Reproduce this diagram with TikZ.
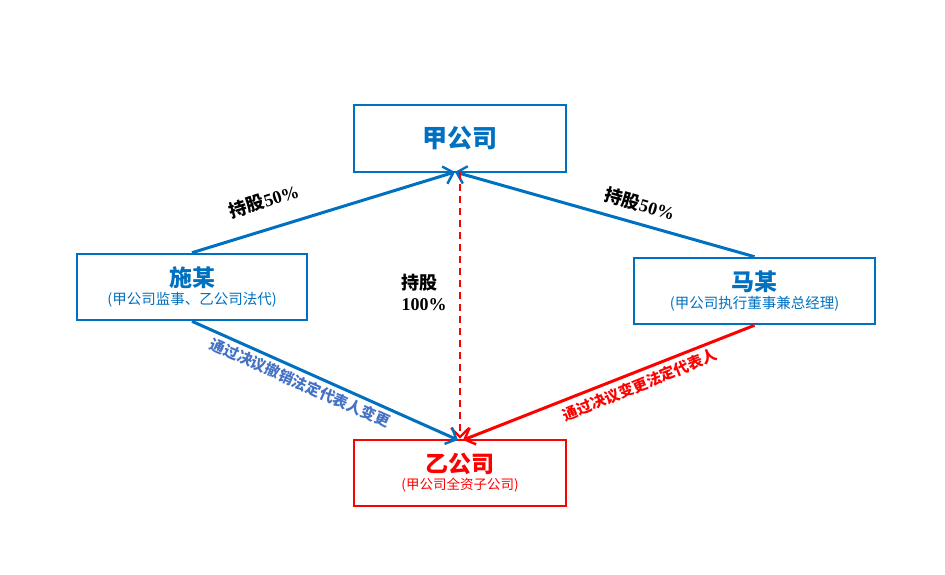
\documentclass[tikz,border=0pt]{standalone}
\usepackage{fontspec}
\newfontfamily\cjk{Noto Sans CJK SC}
\newcommand\cjkb{\cjk\bfseries}
\newfontfamily\tms{Liberation Serif}
\usetikzlibrary{arrows.meta}
\definecolor{bl}{HTML}{0070C0}
\definecolor{lb}{HTML}{4472C4}
\begin{document}
\begin{tikzpicture}[x=1pt,y=-1pt,
 box/.style={draw=bl,line width=2.6pt,minimum width=#1,inner sep=0pt,align=center},
 arr/.style={line width=3pt,-{Straight Barb[length=9pt,width=18pt,line width=2.4pt]}},
 lab/.style={font=\cjkb\fontsize{18}{21}\selectfont}]
\useasboundingbox (0,0) rectangle (945,575);
\node[box=212pt,minimum height=67pt,font=\cjkb\fontsize{25}{28}\selectfont,text=bl] (jia) at (460,138.5) {甲公司};
\node[box=230pt,minimum height=66pt,text=bl] (shi) at (192,287) {{\cjkb\fontsize{23}{26}\selectfont 施某}\\[3pt]{\cjk\fontsize{14.5}{18}\selectfont (甲公司监事、乙公司法代)}};
\node[box=241pt,minimum height=66pt,text=bl] (ma) at (754.5,291) {{\cjkb\fontsize{23}{26}\selectfont 马某}\\[3pt]{\cjk\fontsize{14.5}{18}\selectfont (甲公司执行董事兼总经理)}};
\node[box=212pt,minimum height=66pt,draw=red,text=red] (yi) at (460,473) {{\cjkb\fontsize{23}{26}\selectfont 乙公司}\\[2pt]{\cjk\fontsize{13.5}{16}\selectfont (甲公司全资子公司)}};
\coordinate (jb) at (455,172);
\draw[arr,bl] (shi.north) -- (jb);
\draw[arr,bl] (ma.north) -- (jb);
\draw[arr,red,dash pattern=on 7pt off 5pt,line width=2.2pt] (460,172) -- (yi.north);
\draw[arr,bl] (shi.south) -- (458,440);
\draw[arr,red] (ma.south) -- (463,440);
\node[lab,rotate=17.6] (l1) at (264,201) {持股{\tms\bfseries 50\%}};
\node[lab,rotate=-15.8] (l2) at (640,204) {持股{\tms\bfseries 50\%}};
\node[lab,align=left] (l3) at (424,292) {持股\\{\tms\bfseries 100\%}};
\node[font=\cjkb\fontsize{15}{17}\selectfont,lb,rotate=-24] (l4) at (300,383) {通过决议撤销法定代表人变更};
\node[font=\cjkb\fontsize{15}{17}\selectfont,red,rotate=22] (l5) at (640,385) {通过决议变更法定代表人};
\end{tikzpicture}
\end{document}
